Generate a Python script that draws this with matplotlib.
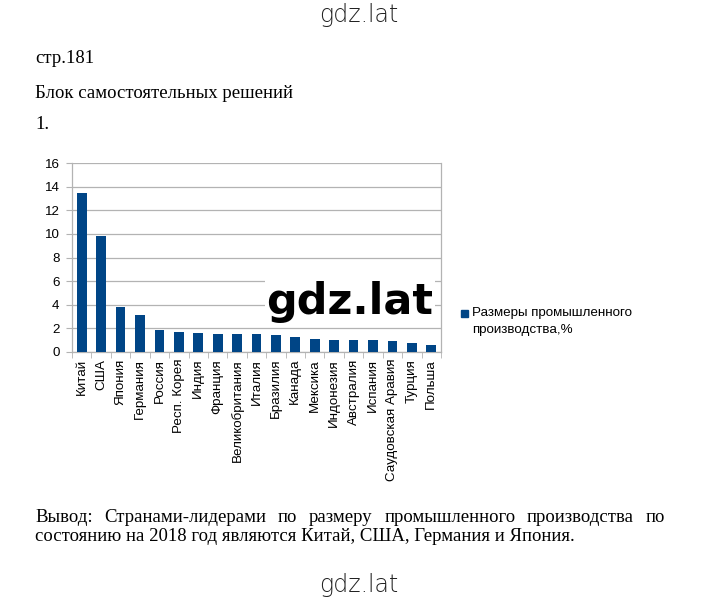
import matplotlib
matplotlib.use("Agg")
import matplotlib.pyplot as plt

countries = ["Китай", "США", "Япония", "Германия", "Россия", "Респ. Корея", "Индия",
             "Франция", "Великобритания", "Италия", "Бразилия", "Канада", "Мексика",
             "Индонезия", "Австралия", "Испания", "Саудовская Аравия", "Турция", "Польша"]
values = [13.5, 9.8, 3.8, 3.1, 1.9, 1.7, 1.6, 1.5, 1.5, 1.5, 1.4, 1.3, 1.1,
          1.0, 1.0, 1.0, 0.9, 0.8, 0.6]
yticks = [0, 2, 4, 6, 8, 10, 12, 14, 16]
series_lines = ["Размеры промышленного", "производства,%"]

W, H = 720, 603
fig = plt.figure(figsize=(W / 100, H / 100), dpi=100)
fig.patch.set_facecolor("white")

def fx(px):
    return px / W

def fy(py):
    return 1 - py / H

BLUE = "#004586"
GRID = "#b3b3b3"
SANS = ["Liberation Sans", "DejaVu Sans"]
SERIF = ["Liberation Serif", "DejaVu Serif"]
FS = 9.6

ax = fig.add_axes([fx(72), fy(352), fx(441) - fx(72), fy(163) - fy(352)])
x = list(range(len(countries)))
ax.bar(x, values, width=0.5, color=BLUE, zorder=3)
ax.set_xlim(-0.5, len(countries) - 0.5)
ax.set_ylim(0, 16)
ax.set_yticks(yticks)
ax.set_yticklabels([str(v) for v in yticks], fontsize=FS, family=SANS)
ax.set_xticks(x)
ax.set_xticklabels(countries, rotation=90, fontsize=FS, family=SANS)
ax.tick_params(axis="x", length=0, pad=5)
ax.set_xticks([i + 0.5 for i in range(-1, len(countries))], minor=True)
ax.tick_params(axis="x", which="minor", length=4, color=GRID, direction="out")
ax.tick_params(axis="y", length=4, color=GRID, pad=5)
ax.yaxis.grid(True, color=GRID, linewidth=0.9, zorder=0)
for s in ["left", "bottom", "right"]:
    ax.spines[s].set_color(GRID)
    ax.spines[s].set_linewidth(0.9)
ax.spines["top"].set_visible(False)

# legend
fig.patches.append(plt.Rectangle((fx(461), fy(317)), fx(7), 7 / H, color=BLUE,
                                 transform=fig.transFigure, figure=fig))
fig.text(fx(472), fy(313), series_lines[0], fontsize=FS, family=SANS,
         va="center", ha="left")
fig.text(fx(472), fy(330), series_lines[1], fontsize=FS, family=SANS,
         va="center", ha="left")

# header texts
fig.text(fx(359), fy(22), "gdz.lat", fontsize=17, family=["DejaVu Sans"],
         fontweight="light", ha="center", va="baseline", color="#222222")
fig.text(fx(35), fy(63), "стр.181", fontsize=13.5, family=SERIF, ha="left", va="baseline")
fig.text(fx(35), fy(98), "Блок самостоятельных решений", fontsize=13.5, family=SERIF,
         ha="left", va="baseline")
fig.text(fx(35), fy(129), "1.", fontsize=13.5, family=SERIF, ha="left", va="baseline")

# big watermark
fig.text(fx(350), fy(302), "gdz.lat", fontsize=31, family=["DejaVu Sans"],
         fontweight="bold", ha="center", va="center", color="black", zorder=10,
         bbox=dict(facecolor="white", edgecolor="none", pad=1))

# conclusion (justified first line)
line1 = "Вывод: Странами-лидерами по размеру промышленного производства по"
line2 = "состоянию на 2018 год являются Китай, США, Германия и Япония."
left, right = 35, 665
fig.canvas.draw()
renderer = fig.canvas.get_renderer()
words = line1.split(" ")
arts = []
for w in words:
    t = fig.text(0, fy(522), w, fontsize=13.5, family=SERIF, ha="left", va="baseline")
    arts.append(t)
widths = [a.get_window_extent(renderer).width for a in arts]
gap = (right - left - sum(widths)) / (len(words) - 1)
pos = left
for a, wd in zip(arts, widths):
    a.set_x(fx(pos))
    pos += wd + gap
fig.text(fx(35), fy(541), line2, fontsize=13.5, family=SERIF, ha="left", va="baseline")

fig.text(fx(359), fy(592), "gdz.lat", fontsize=17, family=["DejaVu Sans"],
         fontweight="light", ha="center", va="baseline", color="#222222")

fig.savefig("out.png", dpi=100)
